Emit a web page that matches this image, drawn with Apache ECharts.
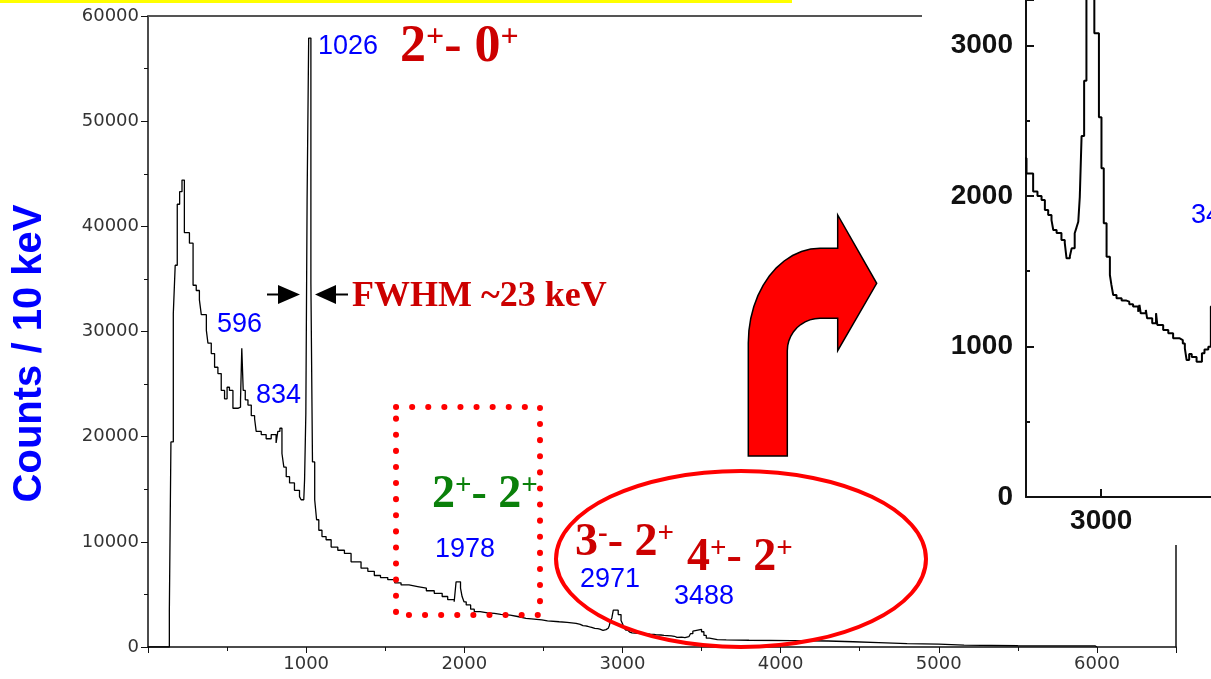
<!DOCTYPE html>
<html><head><meta charset="utf-8">
<script src="https://cdn.jsdelivr.net/npm/echarts@6/dist/echarts.min.js"></script>
<style>html,body{margin:0;padding:0;background:#fff}#c{width:1211px;height:679px}</style>
</head><body><div id="c"></div><script>
// Gamma spectrum, 10 keV bins: each value is the bin level starting at that energy
const energyKeV = [0,135,145,160,172,185,200,215,230,262,285,305,325,337,369,379,400,421,442,463,484,500,515,537,568,585,593,602,615,632,653,674,684,716,747,779,810,821,834,847,859,874,895,926,958,968,985,990,998,1006,1016,1030,1040,1054,1066,1080,1100,1126,1158,1200,1242,1284,1347,1390,1431,1470,1516,1560,1600,1650,1705,1760,1810,1860,1895,1936,1948,1976,1986,1998,2012,2040,2063,2100,2147,2190,2231,2290,2337,2390,2441,2490,2526,2600,2650,2707,2733,2750,2766,2779,2792,2805,2812,2825,2844,2857,2864,2877,2884,2896,2903,2910,2916,2923,2933,2942,2973,2991,3001,3010,3021,3034,3040,3047,3060,3080,3099,3110,3125,3145,3150,3155,3175,3180,3200,3215,3220,3243,3263,3282,3308,3320,3328,3335,3345,3355,3374,3395,3405,3420,3430,3445,3455,3500,3515,3530,3550,3600,3656,3800,4067,4300,4460,4620,4800,5000,5160,5500,5990,6000];
const countsPer10keV = [0,3400,19500,31700,36300,42100,43300,44400,39400,38400,34400,33900,33000,31600,30100,28900,27900,26600,26000,24400,23600,24700,24400,22700,22800,23500,28400,24400,23500,23000,22000,21700,20500,20200,19800,20200,19400,20500,20800,18400,17100,16200,15600,14900,14300,14000,14100,15900,22200,42500,57900,34600,17600,14000,12100,11100,10500,10200,9500,9200,8900,8100,7500,7200,6800,6600,6400,6100,5900,5750,5600,5350,5100,4800,4500,4300,6200,5600,4800,4300,4000,3600,3360,3250,3200,3100,3040,2900,2730,2650,2570,2480,2400,2350,2250,2150,2030,2000,1973,1907,1874,1840,1774,1754,1708,1688,1586,1600,1652,1752,1790,1829,1995,2399,2766,3500,3081,2523,2184,1819,1597,1475,1409,1342,1320,1305,1298,1280,1265,1231,1276,1220,1243,1187,1154,1221,1143,1110,1088,1054,1043,1020,988,910,950,930,899,955,980,999,1265,1500,1680,1450,1100,840,700,670,640,600,570,500,420,330,280,180,120,100,80,0];
const mainXRange = [0, 6500];
const mainYRange = [0, 60000];
const insetXRange = [2705, 3700];
const insetYRange = [0, 3302];
const insetXTicks = [3000];
const peakEnergies = ['1026','596','834','1978','2971','3488'];

const spectrum = energyKeV.map((e, i) => [e, countsPer10keV[i]]);

// bent arrow outline (decoration)
function arrowPoints() {
  const p = [[748.3, 456], [748.3, 343]];
  for (let i = 1; i <= 12; i++) {
    const t = i / 12 * Math.PI / 2;
    p.push([820 - 71.7 * Math.cos(t), 343 - 94.7 * Math.sin(t)]);
  }
  p.push([837.7, 248.3], [837.7, 215], [876.7, 283.3], [837.7, 350.7], [837.7, 318.3], [820, 318.3]);
  for (let i = 1; i <= 10; i++) {
    const t = i / 10 * Math.PI / 2;
    p.push([820 - 32.7 * Math.sin(t), 350.7 - 32.4 * Math.cos(t)]);
  }
  p.push([787.3, 456]);
  return p;
}

const chart = echarts.init(document.getElementById('c'), null, {renderer: 'canvas'});
const tickFont = {fontFamily: 'DejaVu Sans, Liberation Sans, sans-serif', fontSize: 18, color: '#333'};
const insetFont = {fontFamily: 'Liberation Sans, Arial, sans-serif', fontSize: 28, fontWeight: 'bold', color: '#111'};
const serif = 'Liberation Serif, Times New Roman, serif';
const sans = 'Liberation Sans, Arial, sans-serif';
const DR = '#cc0000', BL = '#0000ff', GR = '#0a800a';
const plain = v => String(v);

function blue(txt, x, y) {
  return {type: 'text', z: 70, x: x, y: y,
    style: {text: txt, fill: BL, fontFamily: sans, fontSize: 27, align: 'left', verticalAlign: 'middle'}};
}
function trans(rich, x, y, color, size) {
  return {type: 'text', z: 70, x: x, y: y,
    style: {text: rich, fill: color, align: 'left', verticalAlign: 'bottom',
      rich: {
        n: {fontFamily: serif, fontWeight: 'bold', fontSize: size, fill: color, verticalAlign: 'bottom', lineHeight: size},
        s: {fontFamily: serif, fontWeight: 'bold', fontSize: Math.round(size * 0.62), fill: color, verticalAlign: 'top', lineHeight: size}
      }}};
}

const option = {
  animation: false,
  grid: [
    {left: 148, top: 16, width: 1028, height: 631, outerBoundsMode: 'none', containLabel: false},
    {left: 1026, top: 0, width: 253.7, height: 497, outerBoundsMode: 'none', containLabel: false}
  ],
  xAxis: [
    {gridIndex: 0, type: 'value', min: mainXRange[0], max: mainXRange[1], interval: 1000, position: 'bottom',
      axisLine: {show: true, onZero: false, lineStyle: {color: '#111', width: 1.5}},
      axisTick: {show: true, inside: false, length: 6, lineStyle: {color: '#111'}},
      minorTick: {show: true, splitNumber: 2, length: 4, lineStyle: {color: '#111'}},
      splitLine: {show: false},
      axisLabel: Object.assign({margin: 8, formatter: v => (v === 0 || v > 6000) ? '' : String(v)}, tickFont)},
    {gridIndex: 0, type: 'value', min: mainXRange[0], max: mainXRange[1], position: 'top',
      axisLine: {show: true, onZero: false, lineStyle: {color: '#555', width: 2}},
      axisTick: {show: false}, axisLabel: {show: false}, splitLine: {show: false}},
    {gridIndex: 1, type: 'value', min: insetXRange[0], max: insetXRange[1], position: 'bottom', z: 60,
      axisLine: {show: true, onZero: false, lineStyle: {color: '#111', width: 2}},
      axisTick: {show: true, inside: true, length: 8, customValues: insetXTicks, lineStyle: {color: '#111', width: 2}},
      splitLine: {show: false},
      axisLabel: Object.assign({margin: 10, customValues: insetXTicks, formatter: plain}, insetFont)}
  ],
  yAxis: [
    {gridIndex: 0, type: 'value', min: mainYRange[0], max: mainYRange[1], interval: 10000, position: 'left',
      name: 'Counts / 10 keV', nameLocation: 'middle', nameGap: 98, nameRotate: 90,
      nameTextStyle: {color: BL, fontSize: 40, fontWeight: 'bold', fontFamily: sans, padding: [0, 44, 0, 0]},
      axisLine: {show: true, onZero: false, lineStyle: {color: '#111', width: 1.5}},
      axisTick: {show: true, inside: false, length: 7, lineStyle: {color: '#111'}},
      minorTick: {show: true, splitNumber: 2, length: 4, lineStyle: {color: '#111'}},
      splitLine: {show: false},
      axisLabel: Object.assign({margin: 9, formatter: plain}, tickFont)},
    {gridIndex: 0, type: 'value', min: mainYRange[0], max: mainYRange[1], position: 'right',
      axisLine: {show: true, onZero: false, lineStyle: {color: '#111', width: 1.5}},
      axisTick: {show: false}, axisLabel: {show: false}, splitLine: {show: false}},
    {gridIndex: 1, type: 'value', min: insetYRange[0], max: insetYRange[1], interval: 1000, position: 'left', z: 60,
      axisLine: {show: true, onZero: false, lineStyle: {color: '#111', width: 2}},
      axisTick: {show: true, inside: true, length: 8, lineStyle: {color: '#111', width: 2}},
      minorTick: {show: true, splitNumber: 2, length: 4, lineStyle: {color: '#111', width: 2}},
      splitLine: {show: false},
      axisLabel: Object.assign({margin: 13, formatter: v => (v % 1000 === 0 && v <= 3000) ? String(v) : ''}, insetFont)}
  ],
  series: [
    {type: 'line', name: 'spectrum', xAxisIndex: 0, yAxisIndex: 0, step: 'end', data: spectrum,
      showSymbol: false, symbol: 'none', lineStyle: {color: '#000', width: 1.3}, z: 2},
    {type: 'line', name: 'spectrum zoom', xAxisIndex: 2, yAxisIndex: 2, step: 'end', data: spectrum,
      showSymbol: false, symbol: 'none', clip: true, lineStyle: {color: '#000', width: 2}, z: 61}
  ],
  graphic: [
    {type: 'rect', z: 1, shape: {x: 0, y: 0, width: 792, height: 3}, style: {fill: '#ffff00'}},
    {type: 'rect', z: 50, shape: {x: 922, y: -5, width: 300, height: 550}, style: {fill: '#ffffff'}},
    {type: 'ellipse', z: 70, shape: {cx: 741, cy: 559, rx: 185, ry: 88}, style: {fill: 'none', stroke: '#ff0000', lineWidth: 4}},
    {type: 'rect', z: 70, shape: {x: 396, y: 407, width: 144, height: 208},
      style: {fill: 'none', stroke: '#ff0000', lineWidth: 6, lineDash: [0.1, 16], lineCap: 'round'}},
    {type: 'polygon', z: 70, shape: {points: arrowPoints()},
      style: {fill: '#ff0000', stroke: '#000', lineWidth: 1.5}},
    {type: 'line', z: 70, shape: {x1: 267, y1: 294.5, x2: 281, y2: 294.5}, style: {stroke: '#000', lineWidth: 2}},
    {type: 'polygon', z: 70, shape: {points: [[278, 285], [300, 294.5], [278, 304]]}, style: {fill: '#000'}},
    {type: 'line', z: 70, shape: {x1: 333, y1: 294.5, x2: 348, y2: 294.5}, style: {stroke: '#000', lineWidth: 2}},
    {type: 'polygon', z: 70, shape: {points: [[336, 285], [315, 294.5], [336, 304]]}, style: {fill: '#000'}},
    {type: 'text', z: 70, x: 352, y: 297,
      style: {text: 'FWHM ~23 keV', fill: DR, fontFamily: serif, fontWeight: 'bold', fontSize: 36, align: 'left', verticalAlign: 'middle'}},
    blue(peakEnergies[0], 318, 47),
    blue(peakEnergies[1], 217, 325),
    blue(peakEnergies[2], 256, 396),
    blue(peakEnergies[3], 435, 550),
    blue(peakEnergies[4], 580, 580),
    blue(peakEnergies[5], 674, 597),
    blue(peakEnergies[5], 1191, 216),
    trans('{n|2}{s|+}{n|- 0}{s|+}', 400, 74, DR, 52),
    trans('{n|2}{s|+}{n|- 2}{s|+}', 432, 518, GR, 46),
    trans('{n|3}{s|-}{n|- 2}{s|+}', 575, 566, DR, 46),
    trans('{n|4}{s|+}{n|- 2}{s|+}', 687, 581, DR, 46)
  ]
};
chart.setOption(option);
</script></body></html>
